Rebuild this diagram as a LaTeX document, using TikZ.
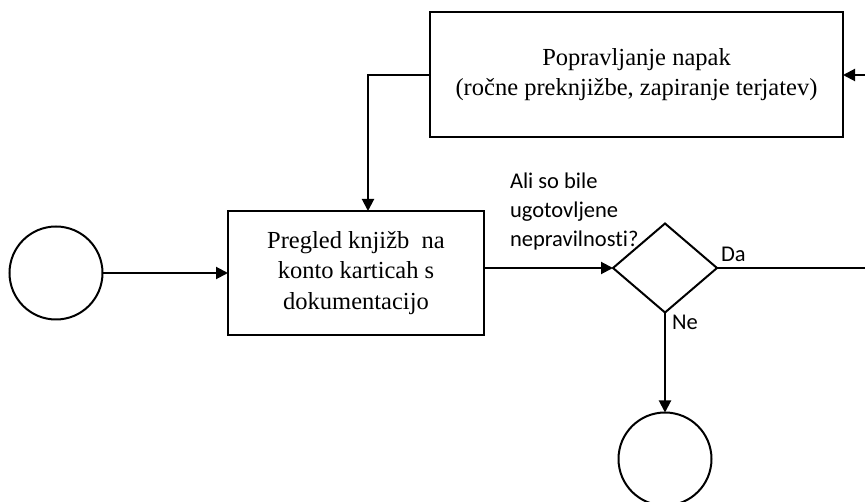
\documentclass[tikz,border=0pt]{standalone}
\usepackage{fontspec}
\setmainfont{Liberation Serif}
\newfontfamily\calib[Ligatures=NoCommon]{Carlito}
\usetikzlibrary{shapes.geometric,arrows.meta}
\begin{document}
\begin{tikzpicture}[x=1pt,y=-1pt,
  line width=2pt,
  every node/.style={inner sep=0pt,outer sep=0pt},
  boxnode/.style={draw,rectangle,align=center,font=\fontsize{24.5}{30.5}\selectfont},
  circnode/.style={draw,circle,minimum size=93pt},
  decnode/.style={draw,diamond,minimum width=104pt,minimum height=89pt},
  lbl/.style={font=\calib\fontsize{22.5}{29}\selectfont,align=left},
  arr/.style={-{Triangle[length=12pt,width=12pt]}}
]
\useasboundingbox (0,0) rectangle (865,502);
\node[circnode] (start) at (56,273) {};
\node[boxnode,minimum width=256pt,minimum height=124pt] (review) at (356,273)
  {Pregled knjižb~ na\\konto karticah s\\dokumentacijo};
\node[boxnode,minimum width=413pt,minimum height=125pt] (fix) at (636.5,74.5)
  {Popravljanje napak\\(ročne preknjižbe, zapiranje terjatev)};
\node[decnode] (dec) at (665,268) {};
\node[circnode] (end) at (665,459) {};
\coordinate (outr) at (865,268);
\coordinate (inr) at (865,75);
\node[lbl,anchor=west] (q) at (510,212) {Ali so bile\\ugotovljene\\nepravilnosti?};
\node[lbl,anchor=base west] (da) at (721,262) {Da};
\node[lbl,anchor=base west] (ne) at (672,330) {Ne};

\draw[arr] (start) -- (review);
\draw[arr] (review.east |- dec.west) -- (dec.west);
\draw (dec.east) -- (outr);
\draw[arr] (inr) -- (fix.east |- inr);
\draw[arr] (fix.west |- inr) -| ([xshift=12pt]review.north);
\draw[arr] (dec.south) -- (end.north);
\end{tikzpicture}
\end{document}
